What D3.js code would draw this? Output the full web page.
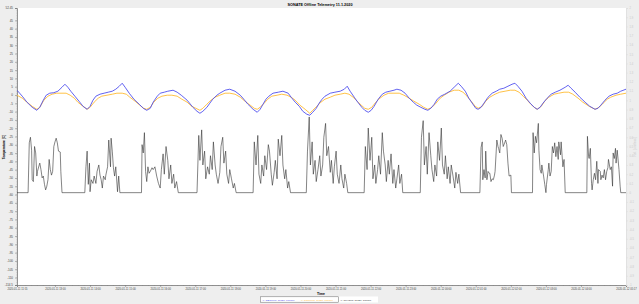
<!DOCTYPE html>
<html>
<head>
<meta charset="utf-8">
<script src="https://cdn.jsdelivr.net/npm/d3@7"></script>
<style>
body { margin: 0; background: #eeeeee; }
svg { display: block; }
text { font-family: "Liberation Sans", Arial, sans-serif; }
</style>
</head>
<body>
<script>
// time axis: minutes after start
var startTime = new Date(2020, 0, 11, 11, 55);
var endMinute = 1042;
var hourTicks = ["2020-01-11T13:00", "2020-01-11T14:00", "2020-01-11T15:00", "2020-01-11T16:00",
    "2020-01-11T17:00", "2020-01-11T18:00", "2020-01-11T19:00", "2020-01-11T20:00",
    "2020-01-11T21:00", "2020-01-11T22:00", "2020-01-11T23:00", "2020-01-12T00:00",
    "2020-01-12T01:00", "2020-01-12T02:00", "2020-01-12T03:00", "2020-01-12T04:00"];

var leftDomain = [-114.5, 52.45];
var rightDomain = [-1, 2];

var seriesNames = ["-x- OBCTMP: 16720, 100000", "-x- RCUTMP: 16720, 100000", "-x- SPVOLT: 16720, 100000"];
var seriesColors = ["#5050ee", "#ffbb33", "#333333"];

// [minute, temperature]
var blueSeries = [[0,2.9],[9,-0.7],[17,-4.3],[26,-7.4],[34,-9.2],
    [39,-7.4],[45,-3.1],[50,-0.1],[56,1.1],[63,1.4],[70,2.3],[77,4.7],[82,6.5],[87,4.7],[92,2.3],[99,-0.7],[106,-3.7],[113,-6.8],[120,-8.6],
    [125,-6.8],[130,-3.1],[135,-0.7],[142,0.5],[149,1.1],[156,1.7],[163,2.3],[169,3.5],[175,5.3],[180,7.1],[185,4.7],[192,1.1],[200,-2.5],[209,-5.5],[216,-8.0],[222,-9.2],
    [228,-8.0],[233,-4.3],[240,-0.7],[245,1.1],[252,1.7],[258,2.3],[267,2.9],[274,1.7],[281,-0.1],[291,-3.1],[301,-7.4],[308,-9.8],[313,-11.0],
    [318,-9.8],[325,-7.4],[330,-4.9],[335,-2.5],[342,-0.1],[347,1.1],[356,2.9],[364,3.5],[373,2.3],[382,-0.1],[388,-2.5],[395,-5.5],[404,-8.6],[411,-10.4],
    [416,-8.6],[421,-5.5],[426,-2.5],[431,-0.7],[438,1.1],[447,1.7],[455,2.3],[464,1.1],[469,-1.3],[476,-4.3],[483,-6.8],[489,-9.8],[496,-11.6],[501,-12.2],
    [506,-10.4],[512,-8.0],[517,-4.9],[522,-2.5],[527,-0.7],[536,1.1],[544,1.7],[553,2.3],[560,3.5],[565,5.3],[570,2.3],[577,-1.3],[583,-4.3],[590,-7.4],[595,-9.2],[601,-10.4],
    [606,-9.2],[611,-6.8],[618,-2.5],[625,0.5],[631,1.7],[638,2.3],[645,2.9],[650,3.5],[657,2.9],[664,1.1],[671,-1.9],[678,-4.3],[684,-6.1],[691,-7.4],[698,-8.6],[703,-9.2],
    [708,-8.0],[714,-5.5],[719,-2.5],[725,-0.7],[732,0.5],[741,2.3],[748,4.7],[755,7.1],[760,5.3],[767,2.3],[773,-1.9],[780,-5.5],[785,-8.0],[789,-8.6],
    [794,-7.4],[799,-4.9],[806,-1.3],[813,1.1],[820,2.3],[826,3.5],[833,4.1],[840,5.3],[847,6.5],[852,7.1],[857,5.3],[864,2.3],[871,-1.9],[878,-4.9],[885,-7.4],[890,-8.6],
    [895,-7.4],[900,-4.9],[907,-1.9],[914,0.5],[921,1.7],[929,2.9],[938,4.7],[943,5.9],[948,4.1],[955,1.7],[963,-1.3],[972,-4.3],[980,-6.8],[989,-8.6],
    [994,-8.0],[999,-6.1],[1006,-3.1],[1013,-0.7],[1020,0.5],[1027,1.1],[1033,2.3],[1042,3.5]];

var orangeSeries = [[0,-0.1],[9,-1.9],[17,-4.3],[26,-6.8],[34,-8.6],
    [39,-7.4],[46,-3.1],[53,-0.7],[60,0.5],[68,1.1],[77,1.1],[84,1.1],[91,-0.1],[98,-1.9],[104,-4.3],[113,-6.8],[120,-8.6],
    [125,-7.4],[132,-4.3],[139,-1.9],[145,-0.7],[154,-0.1],[163,0.5],[171,1.1],[180,1.1],[187,0.5],[193,-1.3],[202,-3.7],[210,-6.1],[217,-8.0],[222,-8.6],
    [228,-7.4],[234,-4.3],[241,-1.9],[248,-0.7],[257,-0.1],[265,-0.1],[274,-0.7],[282,-2.5],[291,-4.3],[299,-6.8],[306,-8.0],[313,-9.2],
    [318,-8.0],[325,-5.5],[332,-3.1],[339,-1.3],[347,-0.1],[356,1.1],[364,1.1],[373,0.5],[382,-1.3],[390,-3.7],[399,-6.1],[406,-8.0],[411,-8.6],
    [416,-7.4],[423,-4.9],[429,-2.5],[436,-0.7],[445,-0.1],[453,0.5],[462,-0.1],[469,-1.3],[476,-3.1],[484,-6.1],[493,-8.6],[501,-11.0],
    [506,-9.2],[513,-6.8],[520,-4.3],[527,-2.5],[536,-1.3],[544,-0.1],[553,0.5],[561,1.1],[568,0.5],[575,-1.3],[582,-3.7],[589,-6.1],[595,-8.0],[601,-8.6],
    [607,-7.4],[614,-4.3],[621,-1.9],[628,-0.1],[636,1.1],[645,1.1],[654,1.1],[662,-0.1],[671,-1.9],[679,-3.7],[688,-5.5],[696,-7.4],[703,-8.6],
    [710,-7.4],[717,-4.9],[724,-1.9],[731,-0.1],[739,1.7],[748,2.9],[756,2.9],[763,1.7],[770,-0.7],[777,-3.7],[784,-6.8],[789,-8.0],
    [796,-6.8],[802,-3.7],[809,-1.3],[818,0.5],[826,1.7],[835,2.3],[844,2.9],[852,2.9],[859,1.7],[866,-0.7],[873,-3.1],[879,-5.5],[885,-7.4],[890,-8.6],
    [897,-6.8],[903,-3.7],[910,-1.3],[919,0.5],[927,1.1],[936,1.7],[944,1.7],[951,0.5],[960,-1.9],[968,-4.3],[979,-6.8],[989,-8.6],
    [996,-7.4],[1003,-4.9],[1010,-2.5],[1016,-1.3],[1025,-0.1],[1033,0.5],[1042,1.1]];

// [minute, right axis value]
var blackSeries = [[0,0],[19,0],[21,0.54],[23,0.60],[25,0.46],[26,0.14],[28,0.12],[30,0.50],[32,0.43],[34,0.18],[35,0.23],[38,0.30],[39,0.32],[41,0.25],[43,0.16],[45,0.18],[47,0.09],[49,0.03],[51,0.07],[53,0.14],[55,0.36],[57,0.25],[59,0.19],[61,0.23],[63,0.50],[65,0.55],[67,0.59],[69,0.54],[71,0.45],[74,0.44],[75,0.23],[77,0],
    [116,0],[118,0.28],[120,0.45],[122,0.09],[124,0.32],[125,0.01],[127,0.14],[130,0.10],[132,0.18],[135,0.10],[137,0.23],[140,0.30],[142,0.19],[144,0.14],[146,0.05],[148,0.18],[151,0.14],[152,0.19],[155,0.28],[157,0.57],[160,0.28],[161,0.59],[163,0.45],[165,0.27],[167,0.18],[169,0.28],[172,0.01],[174,0.18],[176,0],
    [213,0],[214,0.52],[216,0.43],[218,0.65],[220,0.23],[222,0.12],[224,0.28],[226,0.21],[228,0.23],[231,0.27],[233,0.25],[236,0.28],[239,0.18],[242,0.10],[245,0.05],[247,0.25],[250,0.42],[252,0.20],[255,0.50],[258,0.35],[260,0.15],[263,0.30],[265,0.10],[268,0.20],[270,0.05],[273,0.12],[276,0],
    [308,0],[311,0.62],[313,0.35],[316,0.68],[318,0.30],[321,0.45],[323,0.15],[326,0.28],[329,0.20],[331,0.40],[334,0.25],[336,0.55],[339,0.30],[341,0.20],[344,0.10],[347,0.22],[349,0.50],[352,0.60],[354,0.32],[357,0.45],[359,0.20],[362,0.10],[364,0.25],[367,0.15],[370,0.05],[372,0.10],[375,0],
    [404,0],[406,0.55],[409,0.30],[412,0.62],[414,0.20],[417,0.10],[419,0.30],[422,0.18],[424,0.40],[427,0.25],[430,0.52],[432,0.45],[435,0.20],[437,0.08],[440,0.22],[442,0.35],[445,0.15],[447,0.58],[450,0.40],[453,0.62],[455,0.30],[458,0.15],[460,0.25],[463,0.05],[465,0.12],[468,0],
    [495,0],[497,0.45],[500,0.82],[502,0.30],[505,0.55],[507,0.20],[510,0.35],[512,0.12],[515,0.25],[518,0.40],[520,0.18],[523,0.30],[525,0.60],[528,0.75],[530,0.40],[533,0.50],[536,0.22],[538,0.35],[541,0.10],[543,0.28],[546,0.45],[548,0.20],[551,0.10],[554,0.30],[556,0.15],[559,0.05],[561,0.20],[564,0.10],[566,0],
    [594,0],[596,0.50],[599,0.25],[601,0.70],[604,0.35],[607,0.60],[609,0.15],[612,0.30],[614,0.10],[617,0.25],[619,0.40],[622,0.20],[625,0.65],[627,0.45],[630,0.30],[632,0.12],[635,0.35],[637,0.20],[640,0.42],[643,0.10],[645,0.25],[648,0.05],[650,0.15],[653,0.30],[655,0.10],[658,0.20],[660,0],
    [690,0],[692,0.60],[695,0.78],[697,0.30],[700,0.50],[702,0.20],[705,0.65],[708,0.40],[710,0.25],[713,0.12],[715,0.30],[718,0.18],[720,0.55],[723,0.35],[726,0.70],[728,0.30],[731,0.20],[733,0.40],[736,0.15],[738,0.28],[741,0.10],[743,0.30],[746,0.18],[749,0.05],[751,0.22],[754,0.10],[756,0.20],[759,0],
    [792,0],[794,0.49],[796,0.55],[797,0.14],[799,0.25],[801,0.16],[802,0.45],[804,0.14],[806,0.23],[808,0.21],[809,0.21],[811,0.12],[813,0.15],[815,0.14],[817,0.19],[818,0.23],[821,0.57],[823,0.50],[824,0.48],[826,0.43],[828,0.63],[830,0.59],[832,0.50],[835,0.55],[836,0.57],[838,0.52],[840,0.32],[842,0.18],[845,0.19],[846,0],
    [882,0],[883,0.65],[885,0.43],[887,0.61],[889,0.54],[892,0.75],[893,0.46],[895,0.25],[897,0.21],[898,0.30],[901,0.18],[903,0.09],[905,0],[906,0.09],[909,0.25],[910,0.32],[912,0.18],[914,0.23],[916,0.50],[918,0.43],[920,0.54],[922,0.39],[924,0.50],[926,0.36],[927,0.55],[930,0.41],[931,0.55],[934,0.28],[936,0.36],[938,0],
    [975,0],[976,0.61],[978,0.39],[979,0.37],[981,0.48],[983,0.10],[984,0.03],[986,0.14],[988,0.21],[990,0.14],[992,0.34],[994,0.10],[995,0.25],[998,0.23],[999,0.14],[1001,0.19],[1003,0.16],[1005,0.25],[1007,0.14],[1009,0.23],[1011,0.27],[1012,0.36],[1015,0.25],[1017,0.28],[1019,0.07],[1020,0.43],[1022,0.37],[1024,0.48],[1025,0.32],[1027,0.46],[1030,0.25],[1032,0.07],[1033,0],[1042,0]];

var width = 639, height = 304;
var plot = { left: 17, right: 626, top: 8, bottom: 285 };

function toTime(m) {
    return new Date(startTime.getTime() + m * 60000);
}

var svg = d3.select("body").append("svg")
    .attr("width", width)
    .attr("height", height);

svg.append("rect").attr("width", width).attr("height", height).attr("fill", "#eeeeee");
svg.append("rect")
    .attr("x", plot.left).attr("y", plot.top)
    .attr("width", plot.right - plot.left).attr("height", plot.bottom - plot.top)
    .attr("fill", "#ffffff");

var x = d3.scaleTime()
    .domain([toTime(0), toTime(endMinute)])
    .range([plot.left, plot.right]);
var yLeft = d3.scaleLinear().domain(leftDomain).range([plot.bottom, plot.top]);
var yRight = d3.scaleLinear().domain(rightDomain).range([plot.bottom, plot.top]);

var fmtTime = d3.timeFormat("%Y-%m-%d %H:%M");
var fmtNum = function(d) { return String(+d.toFixed(2)); };

// x axis
var xTicks = [toTime(0)].concat(hourTicks.map(function(s) { return new Date(s); })).concat([toTime(endMinute)]);
var xMinor = d3.timeMinute.every(10).range(toTime(0), toTime(endMinute));
svg.append("g").selectAll("line").data(xMinor).enter().append("line")
    .attr("x1", function(d) { return x(d); }).attr("x2", function(d) { return x(d); })
    .attr("y1", plot.bottom).attr("y2", plot.bottom + 1)
    .attr("stroke", "#999").attr("stroke-width", 0.4);
var xAxis = svg.append("g")
    .attr("transform", "translate(0," + plot.bottom + ")")
    .call(d3.axisBottom(x).tickValues(xTicks).tickFormat(fmtTime).tickSize(2).tickPadding(1.5));

// left axis
var leftTicks = [leftDomain[0]].concat(d3.range(-110, 50, 5)).concat([leftDomain[1]]);
svg.append("g").selectAll("line").data(d3.range(-114, 53, 1)).enter().append("line")
    .attr("x1", plot.left - 1).attr("x2", plot.left)
    .attr("y1", function(d) { return yLeft(d); }).attr("y2", function(d) { return yLeft(d); })
    .attr("stroke", "#999").attr("stroke-width", 0.3);
var leftAxis = svg.append("g")
    .attr("transform", "translate(" + plot.left + ",0)")
    .call(d3.axisLeft(yLeft).tickValues(leftTicks).tickFormat(fmtNum).tickSize(2).tickPadding(2));

// right axis
var rightTicks = d3.range(-10, 21).map(function(i) { return i / 10; });
var rightAxis = svg.append("g")
    .attr("transform", "translate(" + plot.right + ",0)")
    .call(d3.axisRight(yRight).tickValues(rightTicks).tickFormat(fmtNum).tickSize(2).tickPadding(1.5));

[xAxis, leftAxis].forEach(function(g) {
    g.select(".domain").attr("stroke", "#777").attr("stroke-width", 0.8);
    g.selectAll(".tick line").attr("stroke", "#777").attr("stroke-width", 0.5);
    g.selectAll("text").attr("fill", "#444").style("font-size", "2.6px");
});
leftAxis.selectAll("text").style("font-size", "3px");
rightAxis.select(".domain").attr("stroke", "#dddddd").attr("stroke-width", 0.8);
rightAxis.selectAll(".tick line").attr("stroke", "#dddddd").attr("stroke-width", 0.5);
rightAxis.selectAll("text").attr("fill", "#c8c8c8").style("font-size", "2.6px");

// series
var clip = svg.append("clipPath").attr("id", "plotClip").append("rect")
    .attr("x", plot.left).attr("y", plot.top)
    .attr("width", plot.right - plot.left).attr("height", plot.bottom - plot.top);

var lineLeft = d3.line()
    .x(function(d) { return x(toTime(d[0])); })
    .y(function(d) { return yLeft(d[1]); });
var lineRight = d3.line()
    .x(function(d) { return x(toTime(d[0])); })
    .y(function(d) { return yRight(d[1]); });

var series = svg.append("g").attr("clip-path", "url(#plotClip)");
series.append("path").datum(blackSeries)
    .attr("d", lineRight).attr("fill", "none")
    .attr("stroke", seriesColors[2]).attr("stroke-width", 0.6);
series.append("path").datum(orangeSeries)
    .attr("d", lineLeft).attr("fill", "none")
    .attr("stroke", seriesColors[1]).attr("stroke-width", 0.9);
series.append("path").datum(blueSeries)
    .attr("d", lineLeft).attr("fill", "none")
    .attr("stroke", seriesColors[0]).attr("stroke-width", 0.9);

// titles
svg.append("text")
    .attr("x", 320).attr("y", 5.5)
    .attr("text-anchor", "middle")
    .style("font-size", "3.8px").style("font-weight", "bold")
    .text("SONATE Offline Telemetry 11.1.2020");
svg.append("text")
    .attr("x", 321).attr("y", 295)
    .attr("text-anchor", "middle")
    .style("font-size", "3.4px").style("font-weight", "bold")
    .text("Time");
svg.append("text")
    .attr("transform", "translate(5,147) rotate(-90)")
    .attr("text-anchor", "middle")
    .style("font-size", "3.2px").style("font-weight", "bold")
    .text("Temperature [C]");
svg.append("text")
    .attr("transform", "translate(636,147) rotate(-90)")
    .attr("text-anchor", "middle")
    .attr("fill", "#c8c8c8")
    .style("font-size", "3.2px")
    .text("Rel. [unitless]");

// legend
var legend = svg.append("g");
legend.append("rect").attr("x", 260).attr("y", 296.5).attr("width", 118).attr("height", 6).attr("fill", "#ffffff");
legend.append("rect").attr("x", 260.3).attr("y", 296.8).attr("width", 78).attr("height", 5.4)
    .attr("fill", "none").attr("stroke", "#666").attr("stroke-width", 0.5);
var legendX = [262, 300.5, 340];
legend.selectAll("text").data(seriesNames).enter().append("text")
    .attr("x", function(d, i) { return legendX[i]; })
    .attr("y", 300.6)
    .attr("fill", function(d, i) { return seriesColors[i]; })
    .style("font-size", "2.5px")
    .text(function(d) { return d; });
</script>
</body>
</html>
